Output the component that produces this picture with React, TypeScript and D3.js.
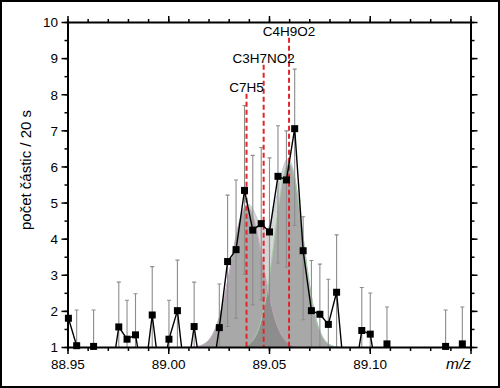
import * as d3 from 'd3'

// ── data ─────────────────────────────────────────────────────────────────────
const mz = [
  88.9502, 88.9543, 88.9585, 88.9627, 88.9668, 88.971, 88.9752, 88.9793, 88.9835, 88.9876,
  88.9918, 88.996, 89.0001, 89.0043, 89.0084, 89.0126, 89.0168, 89.0209, 89.0251, 89.0292,
  89.0334, 89.0376, 89.0417, 89.0459, 89.05, 89.0542, 89.0584, 89.0625, 89.0667, 89.0708,
  89.075, 89.0792, 89.0833, 89.0875, 89.0916, 89.0958, 89.1, 89.1041, 89.1083, 89.1124,
  89.1166, 89.1208, 89.1249, 89.1291, 89.1332, 89.1374, 89.1416, 89.1457,
]
const counts = [
  1.81, 1.05, 0, 1.03, 0, 0, 1.57, 1.23, 1.35, 0,
  1.9, 0, 1.23, 2.02, 0, 1.58, 0, 0, 1.55, 3.38,
  3.71, 5.35, 4.25, 4.43, 4.2, 5.74, 5.64, 7.06, 3.68, 2.02,
  1.92, 1.64, 2.53, 0, 0, 1.47, 1.37, 0, 1.1, 0,
  0, 0, 0, 0, 0, 1.03, 0, 1.1,
]
const errHigh: (number | null)[] = [
  null, 2.04, null, 2.04, null, null, 2.81, 2.31, 2.49, null,
  3.24, null, 2.31, 3.42, null, 2.81, null, null, 2.76, 5.22,
  5.64, 7.7, 6.32, 6.54, 6.25, 7.14, 7.0, 8.71, 4.62, 3.41,
  3.31, 2.89, 4.12, null, null, 2.66, 2.51, null, 2.12, null,
  null, null, null, null, null, 2.04, null, 2.12,
]
const errLow: (number | null)[] = [
  null, 0, null, 0, null, null, 0.33, 0.15, 0.2, null,
  0.56, null, 0.15, 0.62, null, 0.35, null, null, 0.34, 1.58,
  1.81, 3.03, 2.18, 2.32, 2.12, 3.34, 3.23, 4.38, 1.77, 0.6,
  0.5, 0.4, 0.9, null, null, 0.3, 0.2, null, 0, null,
  null, null, null, null, null, 0, null, 0,
]

// fitted peaks
const peakCenter = [89.0388, 89.0596]
const peakHeight = [3.9, 5.1]
const peakWidth  = [0.0078, 0.007]
const peakBase   = 1

// assigned formulas
const formulas  = ['C7H5', 'C3H7NO2', 'C4H9O2']
const formulaMz = [89.0386, 89.0471, 89.0597]

const xMajor = [88.95, 89.0, 89.05, 89.1, 89.15]
const xLabels = ['88.95', '89.00', '89.05', '89.10']
const yMajor = [1, 2, 3, 4, 5, 6, 7, 8, 9, 10]

// ── layout ───────────────────────────────────────────────────────────────────
const W = 500, H = 388
const P = { left: 68, right: 471, top: 22.5, bottom: 347.5 }
const FONT = 'Liberation Sans, Arial, sans-serif'

export default function App() {
  const x = d3.scaleLinear().domain([88.95, 89.15]).range([P.left, P.right])
  const y = d3.scaleLinear().domain([1, 10]).range([P.bottom, P.top])

  const xMinor = d3.range(88.95, 89.1501, 0.01)
  const yMinor = d3.range(1, 10.01, 0.5)

  const grid = d3.range(88.985, 89.115, 0.0004)
  const g = (i: number, m: number) =>
    peakHeight[i] * Math.exp(-((m - peakCenter[i]) ** 2) / (2 * peakWidth[i] ** 2))

  const area = d3.area<number>().x(m => x(m)).y0(y(peakBase))
  const line = d3.line<number>().x(m => x(m))
  const sumY = (m: number) => y(peakBase + g(0, m) + g(1, m))

  const dataLine = d3.line<number>().x((_, i) => x(mz[i])).y(v => y(v))

  const labelLevel = [8.22, 9.02, 9.75]
  const lineTop = [8.03, 8.83, 9.58]

  const axisCol = '#000'

  return (
    <svg width={W} height={H} style={{ position: 'absolute', left: 0, top: 0, background: '#fff' }} fontFamily={FONT}>
      <defs>
        <clipPath id="plot">
          <rect x={P.left} y={P.top} width={P.right - P.left} height={P.bottom - P.top} />
        </clipPath>
      </defs>
      <rect x={1} y={1} width={W - 2} height={H - 2} fill="#fff" stroke="#000" strokeWidth={2} />

      <g clipPath="url(#plot)">
        {/* envelope + fitted peaks */}
        <path d={area.y1(sumY)(grid) ?? ''} fill="#d6d6d6" />
        {peakCenter.map((_, i) => (
          <path key={i} d={area.y1(m => y(peakBase + g(i, m)))(grid) ?? ''} fill="rgb(105,105,105)" fillOpacity={0.42} />
        ))}
        <path d={line.y(sumY)(grid) ?? ''} fill="none" stroke="#b9cad8" strokeWidth={1} />
        {peakCenter.map((_, i) => (
          <path key={i} d={line.y(m => y(peakBase + g(i, m)))(grid) ?? ''} fill="none"
            stroke={i === 0 ? '#c6a2bc' : '#a6cfa6'} strokeWidth={1} />
        ))}

        {/* error bars */}
        {counts.map((v, i) => {
          const hi = errHigh[i], lo = errLow[i]
          if (hi == null || lo == null) return null
          const cx = x(mz[i])
          return (
            <g key={i} stroke="#8c8c8c" strokeWidth={1.1}>
              <line x1={cx} x2={cx} y1={y(hi)} y2={y(lo)} />
              <line x1={cx - 2} x2={cx + 2} y1={y(hi)} y2={y(hi)} />
              <line x1={cx - 2} x2={cx + 2} y1={y(lo)} y2={y(lo)} />
            </g>
          )
        })}

        {/* formula markers */}
        {formulaMz.map((m, i) => (
          <line key={i} x1={x(m)} x2={x(m)} y1={y(lineTop[i])} y2={P.bottom}
            stroke="#e0262a" strokeWidth={2} strokeDasharray="5,3" />
        ))}

        <path d={dataLine(counts) ?? ''} fill="none" stroke="#000" strokeWidth={1.4} strokeLinejoin="round" />
      </g>

      {counts.map((v, i) => v >= 1 && (
        <rect key={i} x={x(mz[i]) - 3.5} y={y(v) - 3.5} width={7} height={7} fill="#000" />
      ))}

      {formulas.map((f, i) => (
        <text key={f} x={x(formulaMz[i])} y={y(labelLevel[i]) + 4.8} textAnchor="middle" fontSize={13.5}>{f}</text>
      ))}

      {/* axes frame */}
      <rect x={P.left} y={P.top} width={P.right - P.left} height={P.bottom - P.top} fill="none" stroke={axisCol} strokeWidth={2} />

      {xMinor.map((m, i) => (
        <g key={'xm' + i} stroke={axisCol} strokeWidth={1.5}>
          <line x1={x(m)} x2={x(m)} y1={P.bottom} y2={P.bottom + 3.5} />
          <line x1={x(m)} x2={x(m)} y1={P.top} y2={P.top - 3.5} />
        </g>
      ))}
      {xMajor.map(m => (
        <g key={'xM' + m} stroke={axisCol} strokeWidth={1.5}>
          <line x1={x(m)} x2={x(m)} y1={P.bottom} y2={P.bottom + 6.5} />
          <line x1={x(m)} x2={x(m)} y1={P.top} y2={P.top - 6.5} />
        </g>
      ))}
      {yMinor.map((v, i) => (
        <g key={'ym' + i} stroke={axisCol} strokeWidth={1.5}>
          <line x1={P.left} x2={P.left - 3.5} y1={y(v)} y2={y(v)} />
          <line x1={P.right} x2={P.right + 3.5} y1={y(v)} y2={y(v)} />
        </g>
      ))}
      {yMajor.map(v => (
        <g key={'yM' + v} stroke={axisCol} strokeWidth={1.5}>
          <line x1={P.left} x2={P.left - 6.5} y1={y(v)} y2={y(v)} />
          <line x1={P.right} x2={P.right + 6.5} y1={y(v)} y2={y(v)} />
        </g>
      ))}

      {xLabels.map((l, i) => (
        <text key={l} x={x(xMajor[i])} y={P.bottom + 21} textAnchor="middle" fontSize={13.5}>{l}</text>
      ))}
      {yMajor.map(v => (
        <text key={v} x={P.left - 10} y={y(v) + 4.8} textAnchor="end" fontSize={13.5}>{v}</text>
      ))}

      <text x={P.right} y={P.bottom + 21} textAnchor="end" fontSize={15.5} fontStyle="italic">m/z</text>
      <text transform={`translate(31,170) rotate(-90)`} textAnchor="middle" fontSize={15}>počet částic / 20 s</text>
    </svg>
  )
}
